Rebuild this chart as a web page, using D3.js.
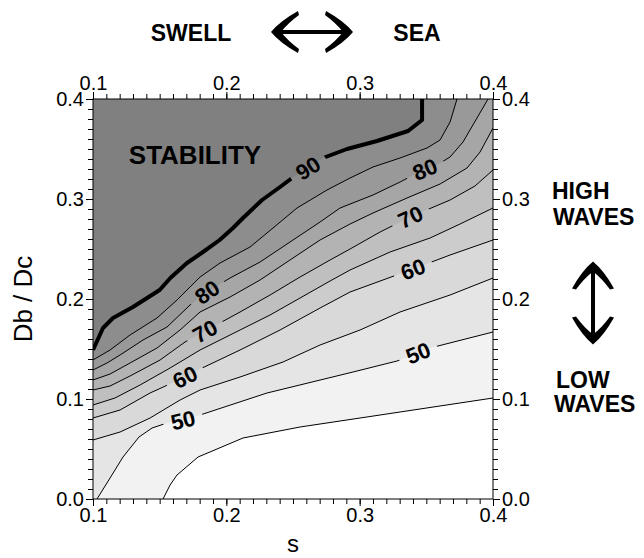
<!DOCTYPE html>
<html>
<head>
<meta charset="utf-8">
<script src="https://cdn.jsdelivr.net/npm/d3@7"></script>
<style>
  body { margin: 0; background: #fff; }
  svg { display: block; font-family: "Liberation Sans", Arial, Helvetica, sans-serif; }
</style>
</head>
<body>
<div id="chart"></div>
<script>
// axis ticks
var sTicks = [0.1, 0.2, 0.3, 0.4];
var dTicks = [0.0, 0.1, 0.2, 0.3, 0.4];

// contour levels and the isolines, as [s, Db/Dc]
var levels = [45, 50, 55, 60, 65, 70, 75, 80, 85, 90];
var line45 = [[0.1525,0],[0.1578,0.014],[0.163,0.024],[0.1788,0.042],[0.2125,0.061],[0.2553,0.072],[0.3303,0.087],[0.4,0.101]];
var line50 = [[0.103,0],[0.1128,0.021],[0.1225,0.042],[0.1345,0.062],[0.1443,0.071],[0.1555,0.076],[0.1675,0.079],[0.1803,0.084],[0.2305,0.106],[0.295,0.127],[0.328,0.138],[0.34,0.144],[0.3528,0.151],[0.4,0.167]];
var line55 = [[0.1,0.059],[0.1203,0.067],[0.1428,0.081],[0.1653,0.099],[0.1803,0.109],[0.2103,0.122],[0.2425,0.137],[0.2703,0.154],[0.3003,0.169],[0.3303,0.187],[0.3678,0.204],[0.4,0.221]];
var line60 = [[0.1,0.081],[0.1203,0.089],[0.1428,0.106],[0.1675,0.121],[0.1803,0.13],[0.2103,0.149],[0.2403,0.169],[0.2703,0.191],[0.2928,0.207],[0.34,0.23],[0.3678,0.244],[0.4,0.259]];
var line65 = [[0.1,0.094],[0.1165,0.101],[0.1353,0.114],[0.1578,0.131],[0.1803,0.149],[0.2103,0.169],[0.2328,0.184],[0.2553,0.201],[0.2778,0.218],[0.2928,0.229],[0.3228,0.247],[0.3528,0.261],[0.3753,0.275],[0.4,0.291]];
var line70 = [[0.1,0.109],[0.1128,0.113],[0.1278,0.123],[0.1503,0.139],[0.169,0.157],[0.1855,0.169],[0.2103,0.187],[0.2328,0.204],[0.2553,0.222],[0.2778,0.239],[0.2928,0.25],[0.3153,0.267],[0.3378,0.282],[0.3678,0.299],[0.3865,0.313],[0.4,0.329]];
var line75 = [[0.1,0.119],[0.1128,0.125],[0.1278,0.136],[0.148,0.151],[0.1653,0.169],[0.1803,0.187],[0.2028,0.202],[0.2253,0.219],[0.25,0.241],[0.2703,0.259],[0.2928,0.275],[0.31,0.286],[0.3355,0.301],[0.3603,0.315],[0.3805,0.331],[0.3903,0.347],[0.4,0.371]];
var line80 = [[0.1,0.129],[0.1105,0.136],[0.1203,0.144],[0.1375,0.159],[0.1555,0.172],[0.1728,0.194],[0.1855,0.207],[0.2028,0.221],[0.2253,0.237],[0.25,0.259],[0.2703,0.277],[0.2853,0.291],[0.31,0.304],[0.3303,0.317],[0.3475,0.329],[0.358,0.334],[0.3678,0.342],[0.3775,0.357],[0.388,0.381],[0.3963,0.4]];
var line85 = [[0.1,0.139],[0.1128,0.149],[0.1278,0.164],[0.148,0.181],[0.163,0.199],[0.1803,0.222],[0.1953,0.236],[0.2178,0.252],[0.235,0.271],[0.253,0.291],[0.2755,0.309],[0.2928,0.321],[0.31,0.332],[0.3303,0.341],[0.3505,0.351],[0.3603,0.359],[0.3678,0.377],[0.373,0.4]];
var line90 = [[0.1,0.149],[0.1075,0.171],[0.115,0.181],[0.13,0.192],[0.15,0.209],[0.158,0.221],[0.1705,0.236],[0.1825,0.247],[0.195,0.259],[0.205,0.271],[0.2125,0.281],[0.2268,0.299],[0.2403,0.312],[0.2493,0.321],[0.2613,0.331],[0.2725,0.341],[0.2905,0.35],[0.313,0.358],[0.3363,0.368],[0.3468,0.379],[0.3468,0.4]];
var isolines = [line45, line50, line55, line60, line65, line70, line75, line80, line85, line90];

// inline contour labels: level and the s where each sits
var labelLevels = [90, 80, 80, 70, 70, 60, 60, 50, 50];
var labelS = [0.2613, 0.1855, 0.349, 0.184, 0.338, 0.169, 0.34, 0.1675, 0.3438];

var width = 644, height = 558;
var pL = 93, pR = 493, pT = 99, pB = 499;

var svg = d3.select("#chart").append("svg")
  .attr("width", width)
  .attr("height", height);

var x = d3.scaleLinear().domain([0.1, 0.4]).range([pL, pR]);
var y = d3.scaleLinear().domain([0, 0.4]).range([pB, pT]);
var grey = d3.scaleLinear().domain([45, 90]).range(["#f2f2f2", "#808080"]);

var line = d3.line().x(d => x(d[0])).y(d => y(d[1]));

// filled bands: region above each isoline, painted from low to high
var fills = svg.append("g");
fills.append("rect")
  .attr("x", pL).attr("y", pT)
  .attr("width", pR - pL).attr("height", pB - pT)
  .attr("fill", "white");

isolines.forEach(function (pts, i) {
  var poly = pts.slice();
  var last = pts[pts.length - 1], first = pts[0];
  if (last[1] < 0.4) poly.push([0.4, 0.4]);
  poly.push([0.1, 0.4]);
  if (first[1] == 0) poly.push([0.1, 0]);
  fills.append("path")
    .attr("d", line(poly) + "Z")
    .attr("fill", grey(levels[i]));
});

// label positions on lines
function pointAt(pts, s) {
  for (var i = 0; i < pts.length - 1; i++) {
    var a = pts[i], b = pts[i + 1];
    if (s >= a[0] && s <= b[0] && b[0] > a[0]) {
      var t = (s - a[0]) / (b[0] - a[0]);
      return [s, a[1] + t * (b[1] - a[1])];
    }
  }
  return pts[pts.length - 1];
}

var labels = labelLevels.map(function (lv, i) {
  var pts = isolines[levels.indexOf(lv)];
  var p = pointAt(pts, labelS[i]);
  var p1 = pointAt(pts, labelS[i] - 0.008), p2 = pointAt(pts, labelS[i] + 0.008);
  var ang = Math.atan2(y(p2[1]) - y(p1[1]), x(p2[0]) - x(p1[0])) * 180 / Math.PI;
  return { level: lv, px: x(p[0]), py: y(p[1]), angle: ang };
});

var defs = svg.append("defs");
var mask = defs.append("mask").attr("id", "gaps")
  .attr("maskUnits", "userSpaceOnUse")
  .attr("x", 0).attr("y", 0).attr("width", width).attr("height", height);
mask.append("rect").attr("width", width).attr("height", height).attr("fill", "white");
mask.selectAll("rect.gap")
  .data(labels)
  .enter().append("rect")
  .attr("class", "gap")
  .attr("x", -20).attr("y", -11).attr("width", 40).attr("height", 22)
  .attr("transform", d => "translate(" + d.px + "," + d.py + ")rotate(" + d.angle + ")")
  .attr("fill", "black");

var clip = defs.append("clipPath").attr("id", "plotclip");
clip.append("rect").attr("x", pL).attr("y", pT).attr("width", pR - pL).attr("height", pB - pT);

svg.append("g")
  .attr("mask", "url(#gaps)")
  .attr("clip-path", "url(#plotclip)")
  .selectAll("path")
  .data(isolines)
  .enter().append("path")
  .attr("d", line)
  .attr("fill", "none")
  .attr("stroke", "black")
  .attr("stroke-width", (d, i) => levels[i] == 90 ? 4 : 1)
  .attr("stroke-linejoin", "round");

svg.append("g")
  .selectAll("text")
  .data(labels)
  .enter().append("text")
  .attr("transform", d => "translate(" + d.px + "," + d.py + ")rotate(" + d.angle + ")")
  .attr("text-anchor", "middle")
  .attr("dy", "0.36em")
  .style("font-size", "22px")
  .style("font-weight", "bold")
  .text(d => d.level);

// axes on all four sides, with minor ticks
var sMinor = d3.range(10, 41).map(d => d / 100);
var dMinor = d3.range(0, 41).map(d => d / 100);
var fmt = d3.format(".1f");

function axis(gen, scale, major, minor, tx, ty) {
  var g = svg.append("g").attr("transform", "translate(" + tx + "," + ty + ")");
  g.call(gen(scale).tickValues(minor).tickSize(5).tickFormat("").tickSizeOuter(0));
  var g2 = svg.append("g").attr("transform", "translate(" + tx + "," + ty + ")");
  g2.call(gen(scale).tickValues(major).tickSize(7).tickPadding(2).tickFormat(fmt).tickSizeOuter(0));
  g2.selectAll("text").style("font-size", "20px").attr("fill", "black");
  g.select(".domain").remove();
  g2.select(".domain").remove();
  return g2;
}
axis(d3.axisBottom, x, sTicks, sMinor, 0, pB);
axis(d3.axisTop, x, sTicks, sMinor, 0, pT);
axis(d3.axisLeft, y, dTicks, dMinor, pL, 0);
axis(d3.axisRight, y, dTicks, dMinor, pR, 0);

svg.append("rect")
  .attr("x", pL).attr("y", pT)
  .attr("width", pR - pL).attr("height", pB - pT)
  .attr("fill", "none").attr("stroke", "black").attr("stroke-width", 1);

// axis titles
svg.append("text")
  .attr("x", (pL + pR) / 2).attr("y", 552)
  .attr("text-anchor", "middle")
  .style("font-size", "24px")
  .text("s");
svg.append("text")
  .attr("transform", "translate(32," + (pT + pB) / 2 + ")rotate(-90)")
  .attr("text-anchor", "middle")
  .style("font-size", "26px")
  .text("Db / Dc");

// annotations
function bold(txt, tx, ty, anchor, size) {
  svg.append("text")
    .attr("x", tx).attr("y", ty)
    .attr("text-anchor", anchor)
    .style("font-size", size + "px")
    .style("font-weight", "bold")
    .text(txt);
}
bold("SWELL", 191, 41, "middle", 23);
bold("SEA", 417, 41, "middle", 23);
bold("STABILITY", 195, 164, "middle", 26);
bold("HIGH", 552, 199, "start", 23);
bold("WAVES", 553, 225, "start", 23);
bold("LOW", 556, 388, "start", 23);
bold("WAVES", 554, 412, "start", 23);

// double arrows with swept heads
var head = "M0,0 Q-11,9 -21,27 L-17,28 Q-9,17 0,10 Q9,17 17,28 L21,27 Q11,9 0,0 Z";
function doubleArrow(cx, cy, len, rot) {
  var g = svg.append("g").attr("transform", "translate(" + cx + "," + cy + ")rotate(" + rot + ")");
  g.append("line")
    .attr("x1", 0).attr("x2", 0)
    .attr("y1", -len / 2 + 6).attr("y2", len / 2 - 6)
    .attr("stroke", "black").attr("stroke-width", 4);
  g.append("path").attr("d", head).attr("transform", "translate(0," + (-len / 2) + ")");
  g.append("path").attr("d", head).attr("transform", "translate(0," + (len / 2) + ")rotate(180)");
}
doubleArrow(312, 32, 82, 90);
doubleArrow(593, 303, 83, 0);
</script>
</body>
</html>
